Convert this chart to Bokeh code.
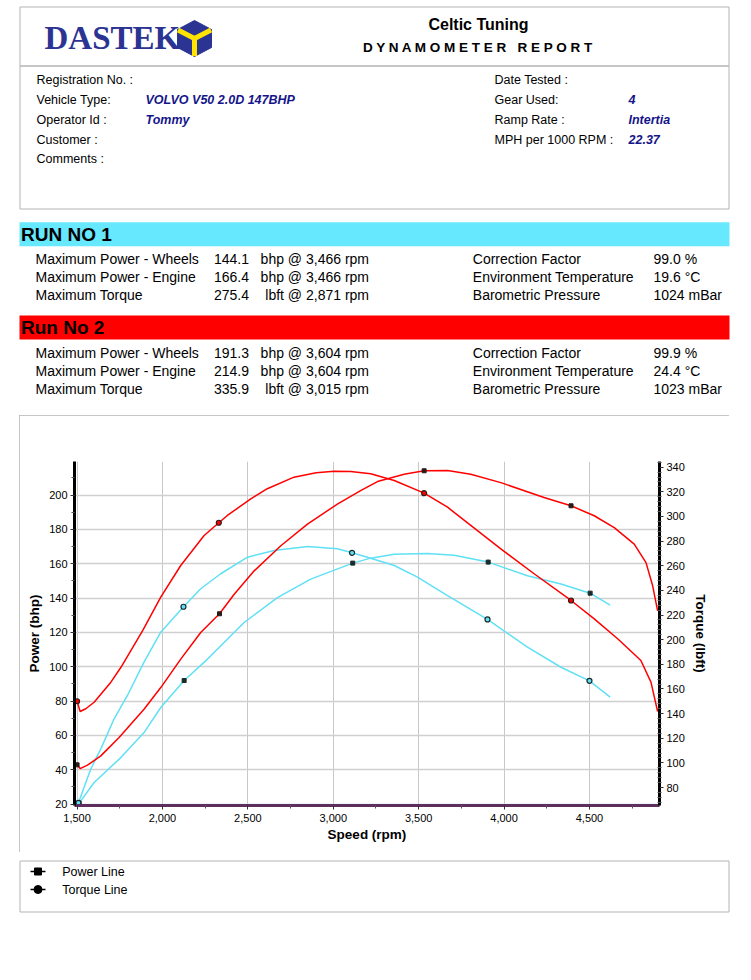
from bokeh.plotting import figure
from bokeh.models import Range1d, LinearAxis, FixedTicker, NumeralTickFormatter, Spacer
from bokeh.layouts import column, row
from bokeh.embed import file_html
from bokeh.resources import INLINE
from bokeh.core.properties import value

# ---------------- data ----------------
company = "Celtic Tuning"
report_title = "D Y N A M O M E T E R \u00a0 R E P O R T"
logo_text = "DASTEK"

info_left_labels = ["Registration No. :", "Vehicle Type:", "Operator Id :", "Customer :", "Comments :"]
info_left_values = ["", "VOLVO V50 2.0D 147BHP", "Tommy", "", ""]
info_right_labels = ["Date Tested :", "Gear Used:", "Ramp Rate :", "MPH per 1000 RPM :"]
info_right_values = ["", "4", "Intertia", "22.37"]

run_titles = ["RUN NO 1", "Run No 2"]
stat_labels = ["Maximum Power - Wheels", "Maximum Power - Engine", "Maximum Torque"]
run1_stat_values = ["144.1", "166.4", "275.4"]
run1_stat_units = ["bhp @ 3,466 rpm", "bhp @ 3,466 rpm", "lbft @ 2,871 rpm"]
run2_stat_values = ["191.3", "214.9", "335.9"]
run2_stat_units = ["bhp @ 3,604 rpm", "bhp @ 3,604 rpm", "lbft @ 3,015 rpm"]
env_labels = ["Correction Factor", "Environment Temperature", "Barometric Pressure"]
run1_env_values = ["99.0 %", "19.6 \u00b0C", "1024 mBar"]
run2_env_values = ["99.9 %", "24.4 \u00b0C", "1023 mBar"]

x_ticks = [1500, 2000, 2500, 3000, 3500, 4000, 4500]
x_minor = [1750, 2250, 2750, 3250, 3750, 4250, 4750]
power_ticks = [20, 40, 60, 80, 100, 120, 140, 160, 180, 200]
power_minor = [30, 50, 70, 90, 110, 130, 150, 170, 190, 210]
torque_ticks = [80, 100, 120, 140, 160, 180, 200, 220, 240, 260, 280, 300, 320, 340]
torque_minor = [68, 72, 76, 84, 88, 92, 96, 104, 108, 112, 116, 124, 128, 132, 136, 144, 148, 152, 156,
                164, 168, 172, 176, 184, 188, 192, 196, 204, 208, 212, 216, 224, 228, 232, 236, 244, 248,
                252, 256, 264, 268, 272, 276, 284, 288, 292, 296, 304, 308, 312, 316, 324, 328, 332, 336, 344]

# Run 2 (red)
run2_power_rpm = [1500, 1518, 1561, 1639, 1746, 1892, 1990, 2107, 2224, 2334, 2420, 2537, 2693, 2849, 3024,
                  3160, 3259, 3415, 3532, 3669, 3805, 3981, 4234, 4392, 4528, 4645, 4762, 4831, 4870, 4899]
run2_power = [42.9, 40.7, 42.7, 48.1, 58.8, 75.3, 87.9, 104.5, 120.0, 130.9, 142.3, 155.9, 170.5, 183.1, 194.8,
              202.6, 207.9, 212.2, 214.2, 214.3, 212.2, 207.3, 198.6, 193.8, 188.0, 181.1, 171.5, 160.7, 147.2, 132.6]
run2_torque_rpm = [1500, 1518, 1551, 1600, 1698, 1757, 1884, 1990, 2107, 2244, 2330, 2380, 2517, 2614, 2770,
                   2900, 3004, 3102, 3219, 3357, 3532, 3669, 3805, 3981, 4176, 4392, 4528, 4665, 4801, 4860, 4899]
run2_torque = [150.0, 141.7, 143.9, 149.2, 165.5, 177.6, 207.4, 234.5, 260.2, 284.5, 294.9, 300.8, 314.3, 322.5,
               331.9, 335.5, 336.7, 336.5, 334.6, 329.2, 318.9, 307.5, 292.7, 273.7, 253.5, 231.8, 216.9, 200.7,
               183.1, 165.5, 141.7]
run2_power_mark_rpm = [1500, 2334, 3532, 4392]
run2_power_mark = [42.9, 130.9, 214.2, 193.8]
run2_torque_mark_rpm = [1500, 2330, 3532, 4392]
run2_torque_mark = [150.0, 294.9, 318.9, 231.8]

# Run 1 (cyan)
run1_power_rpm = [1512, 1600, 1756, 1892, 1990, 2127, 2264, 2478, 2673, 2868, 3114, 3219, 3357, 3552, 3708,
                  3907, 4137, 4333, 4504, 4621]
run1_power = [20.6, 32.6, 47.1, 61.7, 76.3, 92.0, 104.5, 125.8, 140.3, 151.1, 160.4, 163.3, 165.6, 166.0, 165.0,
              161.0, 153.0, 148.2, 142.9, 135.9]
run1_torque_rpm = [1508, 1581, 1639, 1717, 1795, 1892, 1990, 2123, 2224, 2341, 2498, 2654, 2849, 3024, 3110,
                   3219, 3357, 3493, 3669, 3903, 4137, 4333, 4500, 4621]
run1_torque = [67.6, 95.2, 111.4, 135.8, 154.7, 181.7, 206.1, 226.7, 241.3, 253.5, 266.9, 272.4, 275.6, 273.8,
               270.5, 266.1, 260.2, 250.7, 235.8, 216.4, 193.9, 177.6, 166.6, 153.3]
run1_power_mark_rpm = [1512, 2127, 3114, 3907, 4504]
run1_power_mark = [20.6, 92.0, 160.4, 161.0, 142.9]
run1_torque_mark_rpm = [1508, 2123, 3110, 3903, 4500]
run1_torque_mark = [67.6, 226.7, 270.5, 216.4, 166.6]

legend_labels = ["Power Line", "Torque Line"]

# ---------------- style ----------------
FONT = "Liberation Sans"
PW = 751
CYAN = "#66e8ff"
CYAN_LINE = "#5fe0f5"
RED = "#ff0000"
NAVY = "#15158a"
BOXC = "#b4b4b4"


def page_fig(top, bottom):
    f = figure(width=PW, height=bottom - top, x_range=Range1d(0, PW), y_range=Range1d(bottom, top),
               x_axis_type=None, y_axis_type=None, output_backend="svg", toolbar_location=None,
               min_border=0, frame_align=False)
    f.grid.visible = False
    f.outline_line_color = None
    f.background_fill_color = "white"
    f.border_fill_color = "white"
    return f


def txt(f, x, y, t, size, style="normal", color="black", align="left", font=FONT):
    f.text(x=x, y=y, text=t, text_font=value(font), text_font_size=size, text_font_style=style,
           text_color=color, text_align=align, text_baseline="middle")


# ---------------- header ----------------
hdr = page_fig(0, 415)
hdr.quad(left=[19.5, 19.5], right=[728.5, 728.5], top=[6.5, 65.5], bottom=[65.5, 208.5],
         fill_color=None, line_color=BOXC, line_width=1)

# logo
txt(hdr, [44], [37], [logo_text], "33px", "bold", "#2b3393", font="Liberation Serif")
hx = [194, 211, 211, 194, 177, 177]
hy = [20, 29, 47, 56, 47, 29]
hdr.patch(hx, hy, fill_color="#2b3393", line_color="#2b3393")
hdr.multi_line(xs=[[194, 177.5], [194, 210.5], [194, 194]], ys=[[38, 29.5], [38, 29.5], [38, 55.5]],
               line_color="#ffe400", line_width=5)

txt(hdr, [478], [24], [company], "16px", "bold", align="center")
txt(hdr, [478], [47], [report_title], "13.5px", "bold", align="center")

rows_y = [79, 99, 119, 139, 158]
txt(hdr, [36] * 5, rows_y, info_left_labels, "12.5px")
txt(hdr, [145] * 5, rows_y, info_left_values, "12.5px", "bold italic", NAVY)
txt(hdr, [494] * 4, rows_y[:4], info_right_labels, "12.5px")
txt(hdr, [628] * 4, rows_y[:4], info_right_values, "12.5px", "bold italic", NAVY)

# run bars
hdr.quad(left=[19, 19], right=[729, 729], top=[221.7, 315], bottom=[245.7, 339],
         fill_color=[CYAN, RED], line_color=None)
txt(hdr, [20.5, 20.5], [234.3, 327.3], run_titles, "19px", "bold")

for ys, vals, units, env in [([258.3, 276.3, 294.3], run1_stat_values, run1_stat_units, run1_env_values),
                             ([352.3, 370.3, 388.0], run2_stat_values, run2_stat_units, run2_env_values)]:
    txt(hdr, [35] * 3, ys, stat_labels, "14px")
    txt(hdr, [248.5] * 3, ys, vals, "14px", align="right")
    txt(hdr, [368.5] * 3, ys, units, "14px", align="right")
    txt(hdr, [472.3] * 3, ys, env_labels, "14px")
    txt(hdr, [653] * 3, ys, env, "14px")

# ---------------- chart (page x 19..729, y 415..852) ----------------
p = figure(width=710, height=437, x_range=Range1d(1485, 4910), y_range=Range1d(19.2, 219.6),
           output_backend="svg", toolbar_location=None, frame_align=False,
           min_border_left=55, min_border_right=70, min_border_top=46, min_border_bottom=47)
p.outline_line_color = None
p.styles = {"outline": "1px solid " + BOXC, "outline-offset": "-1px"}
p.extra_y_ranges = {"torque": Range1d(65.4, 344.6)}

xa = p.xaxis[0]
xa.ticker = FixedTicker(ticks=x_ticks, minor_ticks=x_minor)
xa.formatter = NumeralTickFormatter(format="0,0")
xa.axis_label = "Speed (rpm)"
xa.axis_line_color = "#5e2f5e"
xa.axis_line_width = 3

ya = p.yaxis[0]
ya.ticker = FixedTicker(ticks=power_ticks, minor_ticks=power_minor)
ya.axis_label = "Power (bhp)"
ya.axis_line_color = "black"
ya.axis_line_width = 3

ra = LinearAxis(y_range_name="torque", ticker=FixedTicker(ticks=torque_ticks, minor_ticks=torque_minor),
                axis_label="Torque (lbft)")
ra.axis_line_color = "black"
ra.axis_line_width = 3
p.add_layout(ra, "right")

for ax in (xa, ya, ra):
    ax.major_label_text_font = FONT
    ax.major_label_text_font_size = "11px"
    ax.major_label_text_color = "black"
    ax.axis_label_text_font = FONT
    ax.axis_label_text_font_size = "13.5px"
    ax.axis_label_text_font_style = "bold"
    ax.axis_label_text_color = "black"
    ax.major_tick_out = 4
    ax.major_tick_in = 0
    ax.minor_tick_out = 3
    ax.minor_tick_in = 0
    ax.major_tick_line_color = "#333333"
    ax.minor_tick_line_color = "#555555"
    ax.major_label_standoff = 3
ra.minor_tick_in = 2
ra.minor_tick_out = 2
xa.major_label_standoff = 4
xa.axis_label_standoff = 2
ya.axis_label_standoff = 4
ra.axis_label_standoff = 5

p.xgrid.grid_line_color = "#c8c8c8"
p.xgrid.grid_line_width = 1
p.ygrid.grid_line_color = "#d0d0d0"
p.ygrid.grid_line_width = 1.5

p.line(run1_power_rpm, run1_power, line_color=CYAN_LINE, line_width=1.5)
p.line(run1_torque_rpm, run1_torque, line_color=CYAN_LINE, line_width=1.5, y_range_name="torque")
p.line(run2_power_rpm, run2_power, line_color=RED, line_width=1.5)
p.line(run2_torque_rpm, run2_torque, line_color=RED, line_width=1.5, y_range_name="torque")

p.scatter(run1_power_mark_rpm, run1_power_mark, marker="square", size=4, fill_color="#1a2a2a", line_color="#1a2a2a")
p.scatter(run2_power_mark_rpm, run2_power_mark, marker="square", size=4, fill_color="#2a1a1a", line_color="#2a1a1a")
p.scatter(run1_torque_mark_rpm, run1_torque_mark, marker="circle", size=5, fill_color=CYAN_LINE,
          line_color="#1a2a2a", line_width=1.2, y_range_name="torque")
p.scatter(run2_torque_mark_rpm, run2_torque_mark, marker="circle", size=5, fill_color=RED,
          line_color="#2a1a1a", line_width=1.2, y_range_name="torque")

# ---------------- legend ----------------
leg = page_fig(852, 916)
leg.quad(left=[19.5], right=[728.5], top=[860.5], bottom=[911.5], fill_color=None, line_color=BOXC)
leg.multi_line(xs=[[30, 45], [30, 45]], ys=[[871, 871], [889, 889]], line_color="black", line_width=1.5)
leg.scatter([37.5], [871], marker="square", size=7, color="black")
leg.scatter([37.5], [889], marker="circle", size=8, color="black")
txt(leg, [61.7, 61.7], [871, 889], legend_labels, "12.5px")

page = column(hdr, row(Spacer(width=19, height=437), p, spacing=0), leg, spacing=0)
open("out.html", "w").write(file_html(page, INLINE))
